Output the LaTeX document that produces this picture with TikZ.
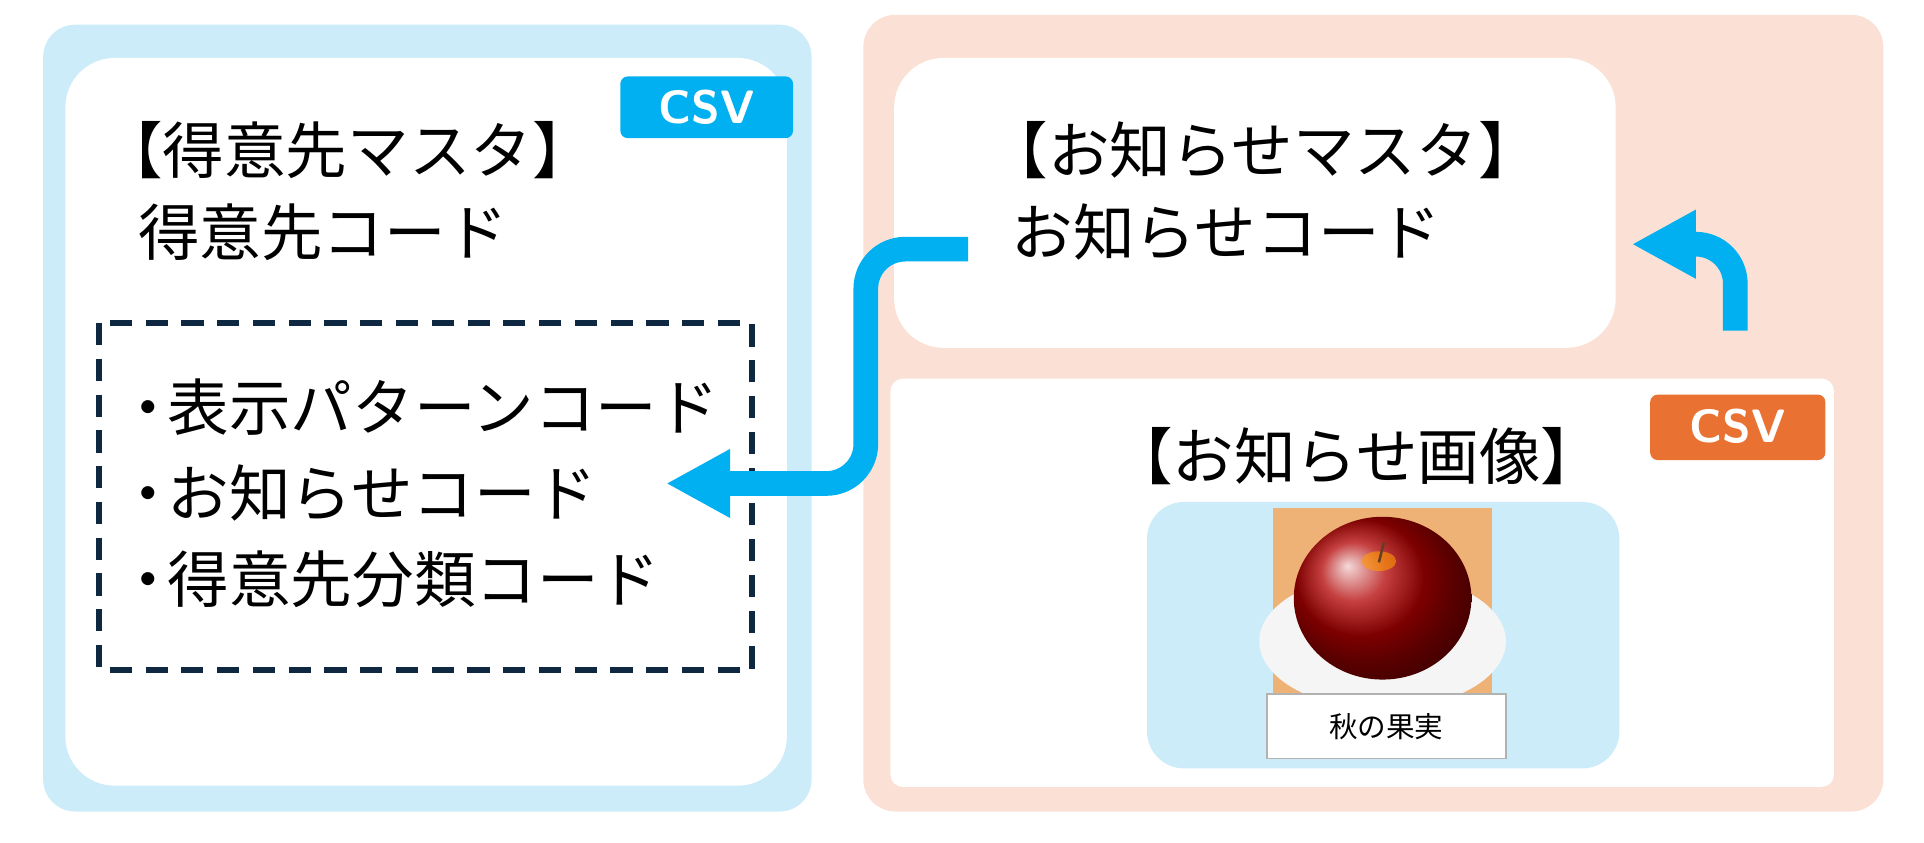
\documentclass[tikz,border=0pt]{standalone}
\usepackage{fontspec}
\setmainfont{Noto Sans CJK JP}
\usetikzlibrary{arrows.meta}
\definecolor{lb}{HTML}{CCECF9}
\definecolor{pe}{HTML}{FBE0D5}
\definecolor{cb}{HTML}{00B0F0}
\definecolor{co}{HTML}{E97132}
\definecolor{dk}{HTML}{0E2841}
\begin{document}
\begin{tikzpicture}[x=0.05cm,y=-0.05cm,
  big/.style={font=\fontsize{71}{84}\selectfont,anchor=west,inner sep=0},
  tag/.style={font=\fontsize{54}{60}\selectfont\bfseries\sffamily,text=white},
  arr/.style={cb,line width=1cm,-{Triangle[length=2.6cm,width=2.6cm]},rounded corners=1.6cm}]
\useasboundingbox (0,0) rectangle (1560,683);
\fill[lb,rounded corners=1.3cm] (35,20) rectangle (658,658);
\fill[white,rounded corners=2cm] (53,47) rectangle (638,637);
\fill[cb,rounded corners=0.3cm] (503,62) rectangle (643,112);
\node[tag] (csv1) at (573,87) {CSV};
\node[big] (t1) at (82,122) {【得意先マスタ】};
\node[big] (t2) at (112,188) {得意先コード};
\draw[dk,line width=0.25cm,dash pattern=on 0.9cm off 0.55cm] (80,262) rectangle (610,543);
\node[big] (i1) at (95,330) {・\hspace{-0.18em}表示パターンコード};
\node[big] (i2) at (95,400) {・\hspace{-0.18em}お知らせコード};
\node[big] (i3) at (95,470) {・\hspace{-0.18em}得意先分類コード};
\fill[pe,rounded corners=1.3cm] (700,12) rectangle (1527,658);
\fill[white,rounded corners=2cm] (725,47) rectangle (1310,282);
\node[big] (t3) at (800,122) {【お知らせマスタ】};
\node[big] (t4) at (820,188) {お知らせコード};
\fill[white,rounded corners=0.5cm] (722,307) rectangle (1487,638);
\fill[co,rounded corners=0.3cm] (1338,320) rectangle (1480,373);
\node[tag] (csv2) at (1409,346) {CSV};
\node[big,anchor=center] (t5) at (1100,370) {【お知らせ画像】};
\fill[lb,rounded corners=1.5cm] (930,407) rectangle (1313,623);
% photo
\fill[brown!45!orange!60!white] (1032,412) rectangle (1210,565);
\fill[white!92!gray] (1121,520) ellipse (100 and 55);
\shade[ball color=red!70!black] (1121,485) ellipse (72 and 66);
\fill[orange!80!yellow,opacity=0.6] (1118,455) ellipse (14 and 8);
\draw[brown!50!black,line width=0.1cm] (1118,456) -- (1122,440);
\node[draw=gray!60,fill=white,line width=0.08cm,minimum width=9.7cm,minimum height=2.6cm,font=\fontsize{33}{38}\selectfont] (cap) at (1124,589) {秋の果実};
\coordinate (a1) at (785,202);
\coordinate (a1e) at (540,392);
\draw[arr] (a1) -- (702,202) -- (702,392) -- (a1e);
\coordinate (a2) at (1407,268);
\coordinate (a2e) at (1323,198);
\draw[arr] (a2) -- (1407,198) -- (a2e);
\end{tikzpicture}
\end{document}
